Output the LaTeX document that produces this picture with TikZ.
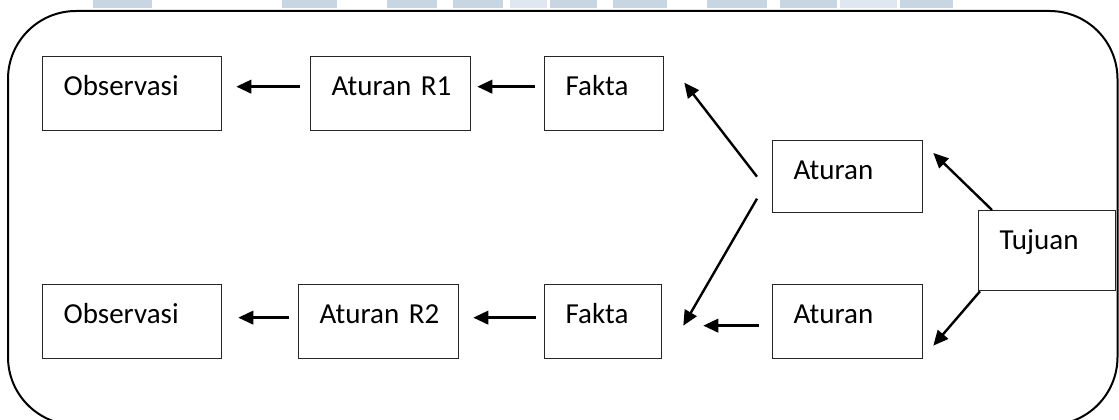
\documentclass[tikz,border=0pt]{standalone}
\usepackage{fontspec}
\setmainfont{Carlito}
\usetikzlibrary{arrows.meta,calc}
\definecolor{wm}{RGB}{200,213,227}
\definecolor{wmlight}{RGB}{223,231,240}
\begin{document}
\begin{tikzpicture}[x=1pt,y=-1pt,
  box/.style={draw=black!85, line width=1.3pt, inner xsep=21pt, inner ysep=0pt,
    text height=39pt, align=left, anchor=north west,
    font=\fontsize{29}{34}\selectfont},
  arr/.style={line width=2.4pt, -{Triangle[length=15pt,width=13.5pt]}},
  frame/.style={line width=2pt, rounded corners=68pt},
  band/.style={fill=wm, draw=none},
  bandlight/.style={fill=wmlight, draw=none}]
\useasboundingbox (0,0) rectangle (1119,420);
\begin{scope}
\clip (0,0) rectangle (1119,420);
% faint header band
\foreach \a/\b in {93/152,282/337,387/437,453/503,550/597,613/667,707/767,780/837,900/953}
  \fill[band] (\a,0) rectangle (\b,8);
\foreach \a/\b in {510/547,840/897}
  \fill[bandlight] (\a,0) rectangle (\b,8);
% outer frame
\draw[frame] (8,11) rectangle (1117.5,425);
\end{scope}

% top row
\node[box, text width=137pt, text depth=35pt] (obsA) at (42,56) {Observasi};
\node[box, text width=118pt, text depth=35pt] (rA) at (310,56) {Aturan~R1};
\node[box, text width=77pt, text depth=35pt] (fA) at (544,56) {Fakta};
% middle
\node[box, text width=108pt, text depth=33pt] (atM) at (772,140) {Aturan};
\node[box, text width=95pt, text depth=41pt] (tuj) at (978,210) {Tujuan};
% bottom row
\node[box, text width=137pt, text depth=35pt] (obsB) at (42,284) {Observasi};
\node[box, text width=118pt, text depth=35pt] (rB) at (298,284) {Aturan~R2};
\node[box, text width=75pt, text depth=35pt] (fB) at (544,284) {Fakta};
\node[box, text width=108pt, text depth=35pt] (atB) at (772,284) {Aturan};

% connectors
\draw[arr] ([xshift=-10pt,yshift=7pt]rA.west) -- ([xshift=14pt,yshift=7pt]obsA.east);
\draw[arr] ([xshift=-9pt,yshift=7pt]fA.west) -- ([xshift=6pt,yshift=7pt]rA.east);
\draw[arr] ([xshift=-15pt]atM.west) -- ([xshift=20pt,yshift=11pt]fA.east);
\draw[arr] ([xshift=14pt]tuj.north west) -- ([xshift=10pt,yshift=-13pt]atM.north east);
\draw[arr] ([xshift=-15pt,yshift=-22pt]atM.west) -- ([xshift=21pt,yshift=-4pt]fB.east);
\draw[arr] ([xshift=2pt]tuj.south west) -- ([xshift=10pt,yshift=-24pt]atB.east);
\draw[arr] ([xshift=-13pt,yshift=-4pt]atB.west) -- ([xshift=41pt,yshift=-4pt]fB.east);
\draw[arr] ([xshift=-8pt,yshift=4pt]fB.west) -- ([xshift=14pt,yshift=4pt]rB.east);
\draw[arr] ([xshift=-9pt,yshift=4pt]rB.west) -- ([xshift=16pt,yshift=4pt]obsB.east);
\end{tikzpicture}
\end{document}
